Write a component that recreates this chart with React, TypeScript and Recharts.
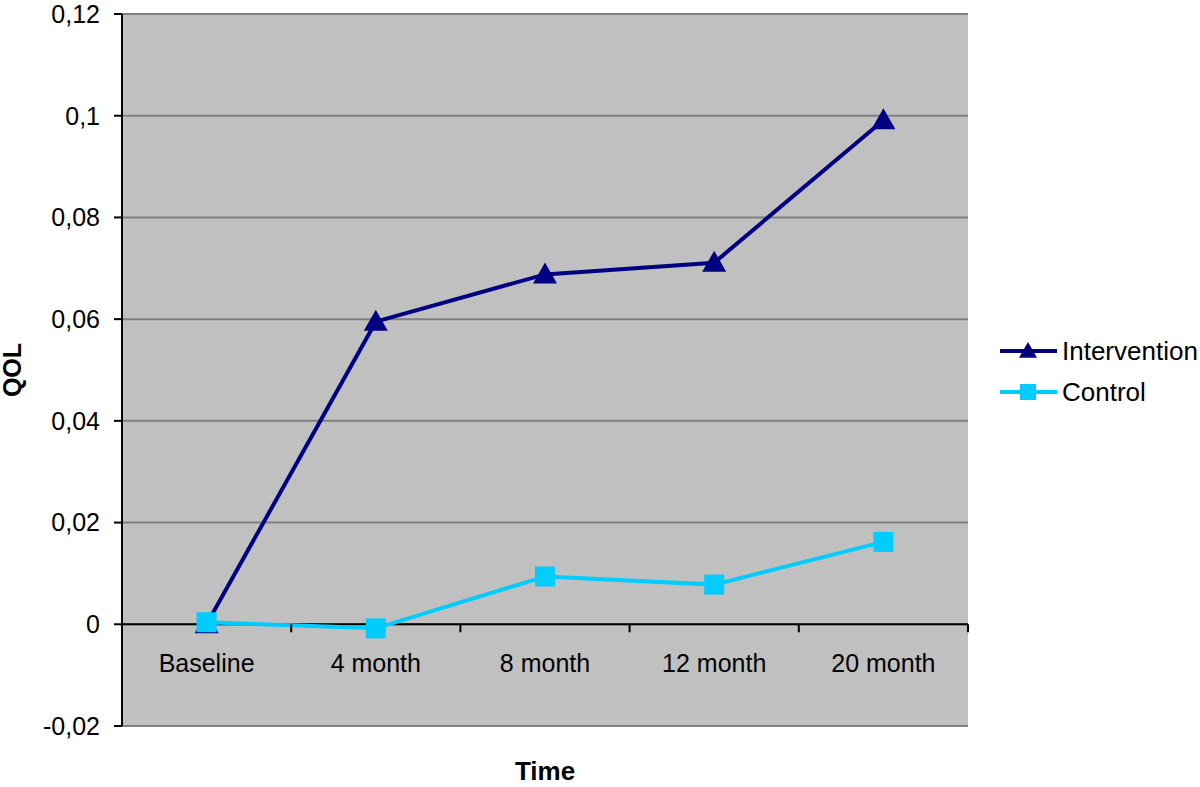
import {
  LineChart,
  Line,
  XAxis,
  YAxis,
  CartesianGrid,
  ReferenceLine,
  Legend,
} from "recharts";

const categories = ["Baseline", "4 month", "8 month", "12 month", "20 month"];
const intervention = [0, 0.0595, 0.0688, 0.0711, 0.0991];
const control = [0.0004, -0.0008, 0.0094, 0.0078, 0.0162];
const yTicks = [-0.02, 0, 0.02, 0.04, 0.06, 0.08, 0.1, 0.12];

const data = categories.map((c, i) => ({
  time: c,
  Intervention: intervention[i],
  Control: control[i],
}));

const FONT = "'Liberation Sans', Arial, Helvetica, sans-serif";
const NAVY = "#000080";
const CYAN = "#00CCFF";

// plot box
const W = 1200;
const H = 787;
const LEFT = 122;
const RIGHT = 968;
const TOP = 14;
const BOTTOM = 726;
const LEGEND_W = 202;
const BAND = (RIGHT - LEFT) / categories.length;
const STEP = (BOTTOM - TOP) / (yTicks.length - 1); // px per tick step

const fmt = (v: number) => String(v).replace(".", ",");

function Triangle({ cx, cy, fill, size = 11 }: any) {
  if (cx == null || cy == null) return null;
  const s = size;
  return <path d={`M${cx},${cy - s} L${cx + s},${cy + s * 0.75} L${cx - s},${cy + s * 0.75} Z`} fill={fill} />;
}

function Square({ cx, cy, fill, size = 10 }: any) {
  if (cx == null || cy == null) return null;
  return <rect x={cx - size} y={cy - size} width={size * 2} height={size * 2} fill={fill} />;
}

// category labels sit under the zero line (one step above the plot bottom), Excel style
function CatTick({ x, y, payload }: any) {
  const zeroY = y - STEP;
  return (
    <g>
      <line x1={x + BAND / 2} x2={x + BAND / 2} y1={zeroY} y2={zeroY + 8} stroke="#000" strokeWidth={2} />
      <text x={x} y={zeroY + 48} textAnchor="middle" fontSize={25} fontFamily={FONT} fill="#000">
        {payload.value}
      </text>
    </g>
  );
}

function LegendBox() {
  const rows = [
    { name: "Intervention", color: NAVY, Mark: Triangle, size: 9 },
    { name: "Control", color: CYAN, Mark: Square, size: 8 },
  ];
  return (
    <svg width={LEGEND_W} height={80}>
      {rows.map((r, i) => {
        const y = 18 + i * 41;
        return (
          <g key={r.name}>
            <line x1={2} x2={59} y1={y} y2={y} stroke={r.color} strokeWidth={4} />
            <r.Mark cx={30} cy={y} fill={r.color} size={r.size} />
            <text x={64} y={y + 9} fontSize={26} fontFamily={FONT} fill="#000">
              {r.name}
            </text>
          </g>
        );
      })}
    </svg>
  );
}

export default function App() {
  return (
    <div style={{ width: W, height: H, background: "#fff" }}>
      <style>{`body{margin:0}`}</style>
      <LineChart
        width={W}
        height={H}
        data={data}
        margin={{ top: TOP, right: W - RIGHT - LEGEND_W, bottom: H - BOTTOM - 30, left: 0 }}
      >
        <CartesianGrid vertical={false} stroke="#808080" strokeWidth={2} fill="#C0C0C0" />
        <XAxis
          dataKey="time"
          scale="band"
          height={30}
          axisLine={false}
          tickLine={false}
          tickSize={0}
          tickMargin={0}
          tick={<CatTick />}
          interval={0}
          label={{
            value: "Time",
            position: "insideBottom",
            offset: -24,
            style: { fontFamily: FONT, fontSize: 26, fontWeight: "bold", fill: "#000" },
          }}
        />
        <YAxis
          width={LEFT}
          domain={[-0.02, 0.12]}
          ticks={yTicks}
          tickFormatter={fmt}
          allowDataOverflow
          stroke="#000"
          axisLine={{ stroke: "#000", strokeWidth: 2 }}
          tickLine={{ stroke: "#000", strokeWidth: 2 }}
          tickSize={8}
          tickMargin={14}
          tick={{ fontFamily: FONT, fontSize: 25, fill: "#000" }}
          label={{
            value: "QOL",
            angle: -90,
            position: "insideLeft",
            offset: 12,
            style: { fontFamily: FONT, fontSize: 25, fontWeight: "bold", fill: "#000", textAnchor: "middle" },
          }}
        />
        <ReferenceLine y={0} stroke="#000" strokeWidth={2} />
        <Legend
          layout="vertical"
          align="right"
          verticalAlign="top"
          content={<LegendBox />}
          wrapperStyle={{ left: 998, top: 333, width: LEGEND_W }}
        />
        <Line
          dataKey="Intervention"
          stroke={NAVY}
          strokeWidth={4}
          dot={<Triangle fill={NAVY} size={12} />}
          activeDot={false}
          isAnimationActive={false}
        />
        <Line
          dataKey="Control"
          stroke={CYAN}
          strokeWidth={4}
          dot={<Square fill={CYAN} size={10} />}
          activeDot={false}
          isAnimationActive={false}
        />
      </LineChart>
    </div>
  );
}
